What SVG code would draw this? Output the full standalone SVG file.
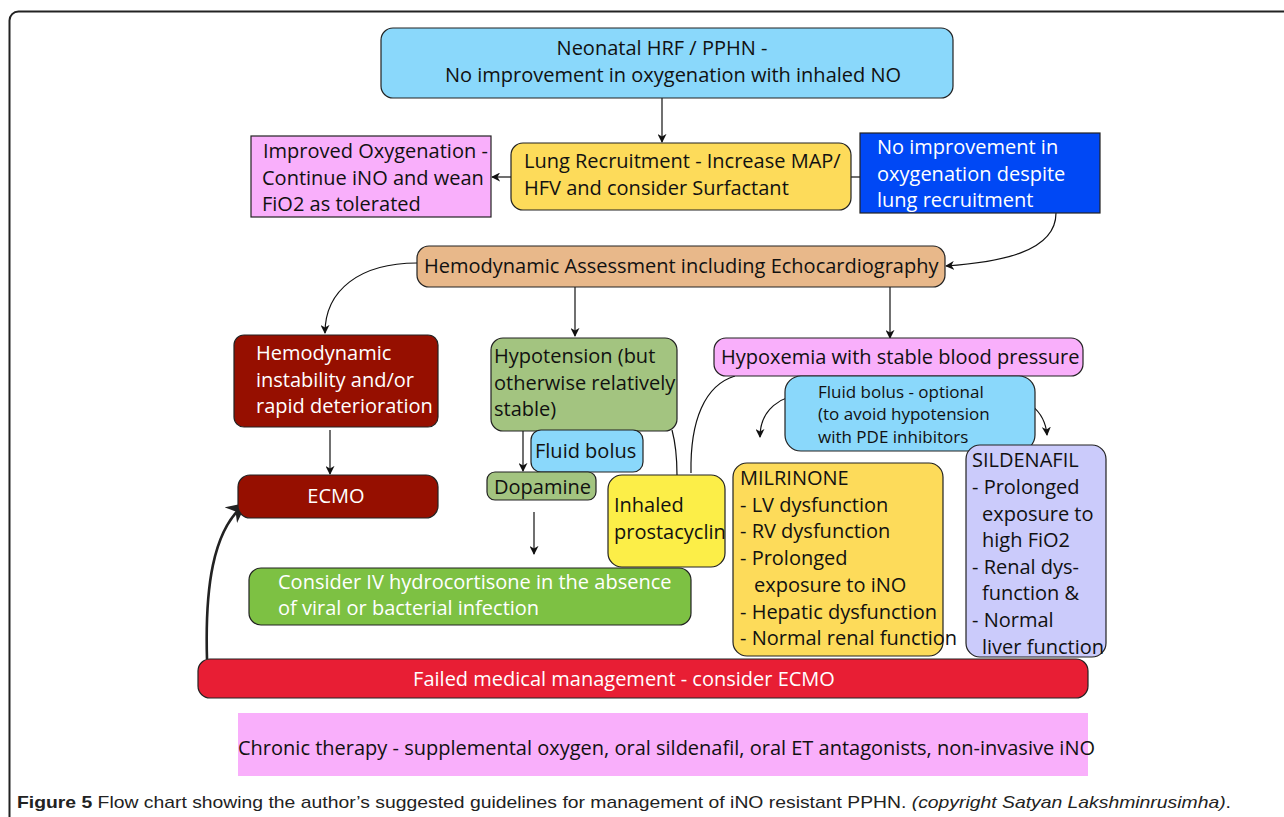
<svg xmlns="http://www.w3.org/2000/svg" width="1284" height="817" viewBox="0 0 1284 817">
<style>
.t{font-family:"Open Sans","Noto Sans",sans-serif;font-size:20px;fill:#111}
.w{fill:#fff}
.s{font-size:17px}
.b{stroke:#222;stroke-width:1.2}
.c{fill:none;stroke:#111;stroke-width:1.2}
</style>
<defs>
<marker id="a" viewBox="0 0 10 10" refX="9" refY="5" markerWidth="9" markerHeight="9" markerUnits="userSpaceOnUse" orient="auto"><path d="M0,0 L10,5 L0,10 L3,5 z" fill="#111"/></marker>
<marker id="A" viewBox="0 0 10 10" refX="9" refY="5" markerWidth="20" markerHeight="20" markerUnits="userSpaceOnUse" orient="auto"><path d="M0,0 L10,5 L0,10 L3,5 z" fill="#222"/></marker>
</defs>
<rect x="9.5" y="11.5" width="1300" height="840" rx="9" fill="#fff" stroke="#222" stroke-width="2"/>

<g id="connectors">
<path class="c" d="M662,98 V142" marker-end="url(#a)"/>
<path class="c" d="M511,177 H492" marker-end="url(#a)"/>
<path class="c" d="M851,177 H860"/>
<path class="c" d="M1056,213 C1056,252 1000,262 946,266" marker-end="url(#a)"/>
<path class="c" d="M417,263 C360,263 325,290 325,333" marker-end="url(#a)"/>
<path class="c" d="M575,287 V336" marker-end="url(#a)"/>
<path class="c" d="M890,287 V338" marker-end="url(#a)"/>
<path class="c" d="M330,430 V474" marker-end="url(#a)"/>
<path class="c" d="M523,431 V471" marker-end="url(#a)"/>
<path class="c" d="M534,512 V554" marker-end="url(#a)"/>
<path class="c" d="M672,430 C676,445 677,460 677,475"/>
<path class="c" d="M735,376 C705,385 690,420 691,473"/>
<path class="c" d="M808,393 C780,395 760,410 760,437" marker-end="url(#a)"/>
<path class="c" d="M995,393 C1025,395 1045,410 1047,435" marker-end="url(#a)"/>
<path fill="none" stroke="#222" stroke-width="2.6" d="M207,659 C205,590 212,530 245,504" marker-end="url(#A)"/>
</g>

<g id="n1"><rect class="b" x="381" y="28" width="572" height="70" rx="12" fill="#8ad8fb"/>
<text class="t" text-anchor="middle"><tspan x="662" y="55">Neonatal HRF / PPHN -</tspan><tspan x="673" y="82">No improvement in oxygenation with inhaled NO</tspan></text></g>

<g id="n2"><rect class="b" x="251" y="136" width="240" height="81" fill="#f9affb"/>
<text class="t"><tspan x="263" y="158">Improved Oxygenation -</tspan><tspan x="262" y="185">Continue iNO and wean</tspan><tspan x="262" y="211">FiO2 as tolerated</tspan></text></g>

<g id="n3"><rect class="b" x="511" y="143" width="340" height="67" rx="12" fill="#fddb5a"/>
<text class="t"><tspan x="524" y="168">Lung Recruitment - Increase MAP/</tspan><tspan x="524" y="195">HFV and consider Surfactant</tspan></text></g>

<g id="n4"><rect class="b" x="860" y="133" width="240" height="80" fill="#0048f5"/>
<text class="t w"><tspan x="877" y="154">No improvement in</tspan><tspan x="877" y="181">oxygenation despite</tspan><tspan x="877" y="207">lung recruitment</tspan></text></g>

<g id="n5"><rect class="b" x="417" y="246" width="528" height="41" rx="12" fill="#e8b88a"/>
<text class="t"><tspan x="424" y="273">Hemodynamic Assessment including Echocardiography</tspan></text></g>

<g id="n6"><rect class="b" x="234" y="335" width="204" height="92" rx="10" fill="#960f00"/>
<text class="t w"><tspan x="256" y="360">Hemodynamic</tspan><tspan x="256" y="387">instability and/or</tspan><tspan x="256" y="413">rapid deterioration</tspan></text></g>

<g id="n7"><rect class="b" x="491" y="338" width="186" height="93" rx="12" fill="#a3c480"/>
<text class="t"><tspan x="494" y="363">Hypotension (but</tspan><tspan x="494" y="390">otherwise relatively</tspan><tspan x="494" y="416">stable)</tspan></text></g>

<g id="n8"><rect class="b" x="714" y="338" width="369" height="38" rx="12" fill="#f9affb"/>
<text class="t"><tspan x="721" y="364">Hypoxemia with stable blood pressure</tspan></text></g>

<g id="n9"><rect class="b" x="785" y="376" width="250" height="75" rx="16" fill="#8ad8fb"/>
<text class="t s"><tspan x="818" y="398">Fluid bolus - optional</tspan><tspan x="818" y="420">(to avoid hypotension</tspan><tspan x="818" y="443">with PDE inhibitors</tspan></text></g>

<g id="n10"><rect class="b" x="531" y="430" width="112" height="42" rx="10" fill="#8ad8fb"/>
<text class="t"><tspan x="535" y="458">Fluid bolus</tspan></text></g>

<g id="n11"><rect class="b" x="487" y="472" width="109" height="28" rx="8" fill="#a3c480"/>
<text class="t"><tspan x="494" y="494">Dopamine</tspan></text></g>

<g id="n12"><rect class="b" x="238" y="475" width="200" height="43" rx="12" fill="#960f00"/>
<text class="t w" text-anchor="middle"><tspan x="336" y="503">ECMO</tspan></text></g>

<g id="n13"><rect class="b" x="608" y="475" width="117" height="92" rx="14" fill="#fcee48"/>
<text class="t"><tspan x="614" y="512">Inhaled</tspan><tspan x="614" y="539">prostacyclin</tspan></text></g>

<g id="n14"><rect class="b" x="733" y="463" width="210" height="193" rx="14" fill="#fddb5a"/>
<text class="t"><tspan x="740" y="485">MILRINONE</tspan><tspan x="740" y="512">- LV dysfunction</tspan><tspan x="740" y="538">- RV dysfunction</tspan><tspan x="740" y="565">- Prolonged</tspan><tspan x="754" y="592">exposure to iNO</tspan><tspan x="740" y="619">- Hepatic dysfunction</tspan><tspan x="740" y="645">- Normal renal function</tspan></text></g>

<g id="n15"><rect class="b" x="966" y="445" width="140" height="212" rx="14" fill="#cbcbfb"/>
<text class="t"><tspan x="972" y="467">SILDENAFIL</tspan><tspan x="972" y="494">- Prolonged</tspan><tspan x="982" y="521">exposure to</tspan><tspan x="982" y="547">high FiO2</tspan><tspan x="972" y="574">- Renal dys-</tspan><tspan x="982" y="600">function &amp;</tspan><tspan x="972" y="627">- Normal</tspan><tspan x="982" y="654">liver function</tspan></text></g>

<g id="n16"><rect class="b" x="249" y="568" width="442" height="57" rx="12" fill="#7dc143"/>
<text class="t w"><tspan x="278" y="589">Consider IV hydrocortisone in the absence</tspan><tspan x="278" y="615">of viral or bacterial infection</tspan></text></g>

<g id="n17"><rect class="b" x="198" y="659" width="890" height="39" rx="12" fill="#e81e34"/>
<text class="t w" text-anchor="middle"><tspan x="624" y="686">Failed medical management - consider ECMO</tspan></text></g>

<g id="n18"><rect x="238" y="713" width="850" height="63" fill="#f9affb"/>
<text class="t"><tspan x="238" y="755">Chronic therapy - supplemental oxygen, oral sildenafil, oral ET antagonists, non-invasive iNO</tspan></text></g>

<text x="17" y="808" font-family="Liberation Sans, sans-serif" font-size="17" fill="#222" textLength="1214" lengthAdjust="spacingAndGlyphs"><tspan font-weight="bold">Figure 5</tspan> Flow chart showing the author’s suggested guidelines for management of iNO resistant PPHN. <tspan font-style="italic">(copyright Satyan Lakshminrusimha)</tspan>.</text>
</svg>
